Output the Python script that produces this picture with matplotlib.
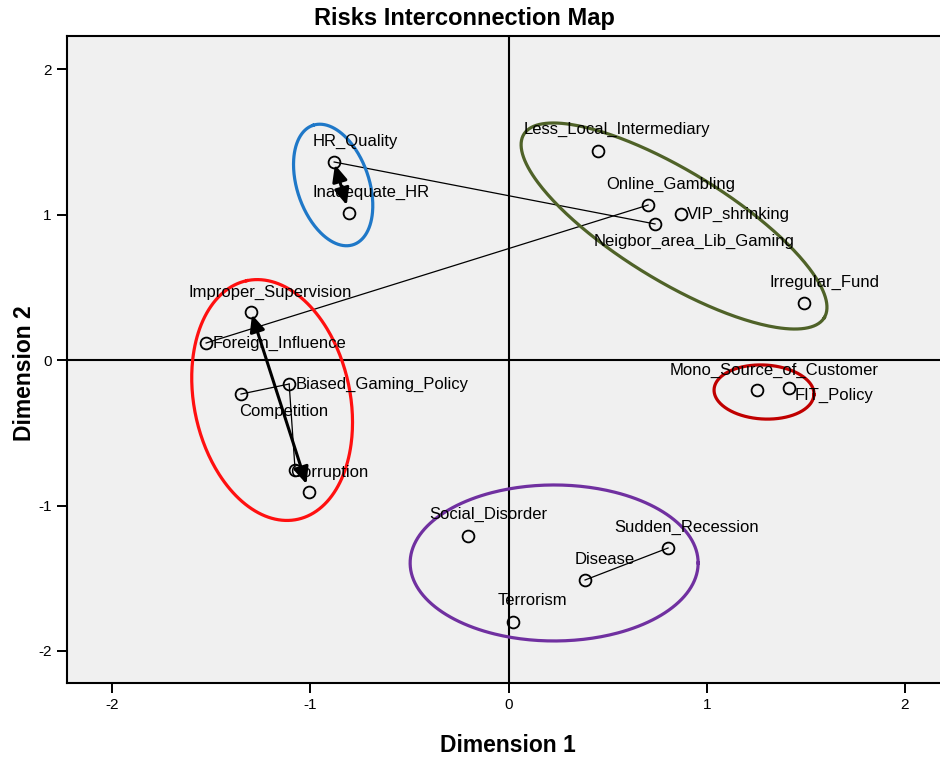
import numpy as np
import matplotlib
matplotlib.use("Agg")
import matplotlib.pyplot as plt

plt.rcParams['font.family'] = ['Liberation Sans', 'DejaVu Sans']
plt.rcParams['axes.unicode_minus'] = False

# risk coordinates (dimension 1, dimension 2)
names = ["HR_Quality", "Inadequate_HR", "Less_Local_Intermediary", "Online_Gambling",
         "VIP_shrinking", "Neigbor_area_Lib_Gaming", "Irregular_Fund",
         "Improper_Supervision", "Foreign_Influence", "Biased_Gaming_Policy",
         "Competition", "Corruption", "", "Mono_Source_of_Customer", "FIT_Policy",
         "Social_Disorder", "Sudden_Recession", "Disease", "Terrorism"]
dim1 = [-0.880, -0.805, 0.452, 0.704, 0.870, 0.739, 1.491, -1.299, -1.526, -1.107,
        -1.350, -1.077, -1.007, 1.254, 1.415, -0.204, 0.805, 0.386, 0.023]
dim2 = [1.361, 1.010, 1.436, 1.065, 1.003, 0.935, 0.392, 0.330, 0.117, -0.165,
        -0.234, -0.756, -0.907, -0.206, -0.192, -1.210, -1.292, -1.512, -1.801]

# links between risks
links = [("HR_Quality", "Neigbor_area_Lib_Gaming"),
         ("Foreign_Influence", "Online_Gambling"),
         ("Competition", "Biased_Gaming_Policy"),
         ("Biased_Gaming_Policy", "Corruption"),
         ("Disease", "Sudden_Recession")]
arrows = [("HR_Quality", "Inadequate_HR"), ("Improper_Supervision", "")]

# label offsets in pixels (left edge, vertical centre)
label_off = [(-22, 21), (-37, 21), (-75, 22), (-42, 21), (6, 0), (-61, -17), (-35, 21),
             (-63, 20), (6, 0), (6, 0), (-2, -17), (-5, -2), (0, 0), (-87, 20), (6, -7),
             (-39, 22), (-54, 21), (-10, 20), (-15, 22)]

# cluster ellipses: centre (data), semi-axes (px), angle (deg), colour
clusters = [((-0.885, 1.203), 63, 36, 108.7, "#1f78c8"),
            ((-1.193, -0.275), 122, 78, 102.0, "#ff1010"),
            ((0.835, 0.921), 176, 55, -31.4, "#4f6228"),
            ((1.289, -0.220), 50, 27, -3.0, "#c00000"),
            ((0.230, -1.395), 144, 78, 0.0, "#7030a0")]

fig = plt.figure(figsize=(9.4, 7.58), dpi=100)
ax = fig.add_axes([67 / 940, 75 / 758, 873 / 940, 647 / 758])
ax.set_facecolor("#f0f0f0")
xmin, xmax = -2.228, 2.177
ymin, ymax = -2.22, 2.227
ax.set_xlim(xmin, xmax)
ax.set_ylim(ymin, ymax)

sx = 873 / (xmax - xmin)
sy = 647 / (ymax - ymin)

ax.axhline(0, color="black", lw=1.5, zorder=1)
ax.axvline(0, color="black", lw=1.5, zorder=1)

pos = {n: (x, y) for n, x, y in zip(names, dim1, dim2)}

for a, b in links:
    ax.plot([pos[a][0], pos[b][0]], [pos[a][1], pos[b][1]], color="black", lw=0.9, zorder=2)

for a, b in arrows:
    ax.annotate("", xy=pos[b], xytext=pos[a],
                arrowprops=dict(arrowstyle="<|-|>,head_length=1.0,head_width=0.45",
                                color="black", lw=2.2, shrinkA=2, shrinkB=6), zorder=3)

ax.plot(dim1, dim2, "o", mfc="none", mec="black", ms=8.5, mew=1.3, zorder=4)

for n, x, y, (dx, dy) in zip(names, dim1, dim2, label_off):
    if n:
        ax.annotate(n, (x, y), xytext=(dx, dy), textcoords="offset pixels",
                    ha="left", va="center", fontsize=12, zorder=5)

t = np.linspace(0, 2 * np.pi, 300)
for (cx, cy), a, b, ang, col in clusters:
    th = np.deg2rad(ang)
    px = a * np.cos(t) * np.cos(th) - b * np.sin(t) * np.sin(th)
    py = a * np.cos(t) * np.sin(th) + b * np.sin(t) * np.cos(th)
    ax.plot(cx + px / sx, cy + py / sy, color=col, lw=2.3, zorder=3)

ax.set_xticks([-2, -1, 0, 1, 2])
ax.set_yticks([-2, -1, 0, 1, 2])
ax.tick_params(direction="out", length=7, width=1.4, labelsize=11, pad=4)
for s in ["left", "bottom", "top"]:
    ax.spines[s].set_linewidth(1.5)
ax.spines["right"].set_visible(False)

fig.text(464 / 940, 1 - 19 / 758, "Risks Interconnection Map", ha="center", va="center",
         fontsize=17, fontweight="bold")
fig.text(508 / 940, 1 - 745 / 758, "Dimension 1", ha="center", va="center",
         fontsize=16.5, fontweight="bold")
fig.text(25 / 940, 1 - 373 / 758, "Dimension 2", ha="center", va="center",
         fontsize=16.5, fontweight="bold", rotation=90)

fig.savefig("out.png", dpi=100)
